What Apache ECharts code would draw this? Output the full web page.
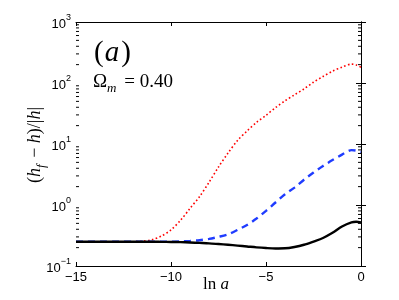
<!DOCTYPE html>
<html>
<head>
<meta charset="utf-8">
<style>html,body{margin:0;padding:0;background:#fff;}#c{width:399px;height:300px;}</style>
<script src="https://cdn.jsdelivr.net/npm/echarts@6/dist/echarts.min.js"></script>
</head>
<body>
<div id="c"></div>
<script>
// Data
var lnA = [-15, -14.5, -14, -13.5, -13, -12.5, -12, -11.5, -11, -10.5, -10, -9.5, -9, -8.5, -8, -7.5, -7, -6.5, -6, -5.5, -5, -4.5, -4, -3.5, -3, -2.5, -2, -1.5, -1, -0.5, -0.25, 0];
var blackSolid = [0.25, 0.25, 0.25, 0.25, 0.25, 0.25, 0.25, 0.25, 0.25, 0.249, 0.248, 0.246, 0.243, 0.239, 0.235, 0.229, 0.223, 0.216, 0.209, 0.202, 0.197, 0.194, 0.195, 0.205, 0.223, 0.252, 0.288, 0.35, 0.445, 0.52, 0.532, 0.52];
var blueDashed = [0.25, 0.25, 0.25, 0.25, 0.25, 0.25, 0.25, 0.25, 0.25, 0.25, 0.25, 0.253, 0.258, 0.265, 0.278, 0.3, 0.33, 0.39, 0.47, 0.6, 0.8, 1.1, 1.5, 1.93, 2.6, 3.4, 4.35, 5.45, 6.7, 7.95, 7.8, 7.4];
var redDotted = [0.25, 0.25, 0.25, 0.25, 0.25, 0.25, 0.25, 0.255, 0.27, 0.31, 0.39, 0.56, 0.88, 1.37, 2.35, 4.2, 7.1, 11.4, 16.3, 22.6, 29.5, 39.5, 51, 64, 80, 103, 128, 156, 182, 204, 198, 181];
var xTicks = [-15, -10, -5, 0];
var yTicks = [0.1, 1, 10, 100, 1000];
var yTickExp = {'0.1': '\u22121', '1': '0', '10': '1', '100': '2', '1000': '3'};
var yMinorTicks = [];
[0.1, 1, 10, 100].forEach(function (d) { for (var k = 2; k <= 9; k++) yMinorTicks.push(+(d * k).toPrecision(3)); });

function pairs(ys) { return lnA.map(function (x, i) { return [x, ys[i]]; }); }

var chart = echarts.init(document.getElementById('c'), null, {renderer: 'canvas'});
var tickFont = 'Liberation Sans';
var serif = 'Liberation Serif';
var option = {
  animation: false,
  backgroundColor: '#fff',
  grid: {left: 76, right: 38, top: 22, bottom: 34},
  xAxis: [{
    type: 'value', min: -15, max: 0, interval: 5,
    axisLine: {lineStyle: {color: '#000', width: 1}},
    axisTick: {inside: true, length: 4, lineStyle: {color: '#000'}},
    axisLabel: {color: '#000', fontFamily: tickFont, fontSize: 13, margin: 5,
      formatter: function (v) { return String(v).replace('-', '\u2212'); }},
    splitLine: {show: false}
  }, {
    type: 'value', min: -15, max: 0, interval: 5, position: 'top',
    axisLine: {show: true, lineStyle: {color: '#000', width: 1}},
    axisTick: {inside: true, length: 4, lineStyle: {color: '#000'}},
    axisLabel: {show: false}, splitLine: {show: false}
  }],
  yAxis: [{
    type: 'log', logBase: 10, min: 0.1, max: 1000,
    axisLine: {show: true, lineStyle: {color: '#000', width: 1}},
    axisTick: {show: true, inside: true, length: 5, lineStyle: {color: '#000'}},
    axisLabel: {color: '#000', fontFamily: tickFont, fontSize: 13, margin: 5,
      formatter: function (v) { var k = String(+v.toPrecision(3)); return '{b|10}{s|' + (yTickExp[k] || '') + '}'; },
      rich: {b: {fontFamily: tickFont, fontSize: 13, color: '#000', lineHeight: 18, verticalAlign: 'bottom'},
             s: {fontFamily: tickFont, fontSize: 9, color: '#000', verticalAlign: 'top', lineHeight: 18, padding: [0, 0, 6, 0]}}},
    splitLine: {show: false}
  }, {
    type: 'log', logBase: 10, min: 0.1, max: 1000, position: 'right',
    axisLine: {show: true, lineStyle: {color: '#000', width: 1}},
    axisTick: {show: true, inside: true, length: 5, lineStyle: {color: '#000'}},
    axisLabel: {show: false}, splitLine: {show: false}
  }],
  series: [{
    type: 'line', data: pairs(redDotted), smooth: 0.3, showSymbol: false, symbol: 'none',
    lineStyle: {color: '#ff0000', width: 1.6, type: [1.6, 2.4]}, z: 3
  }, {
    type: 'line', data: pairs(blueDashed), smooth: 0.3, showSymbol: false, symbol: 'none',
    lineStyle: {color: '#1f3cff', width: 2.4, type: [7, 5]}, z: 4
  }, {
    type: 'line', data: pairs(blackSolid), smooth: 0.3, showSymbol: false, symbol: 'none',
    lineStyle: {color: '#000', width: 2.4}, z: 5
  }, {
    type: 'custom', silent: true, z: 6,
    data: yMinorTicks.map(function (v) { return [-15, v]; }),
    renderItem: function (params, api) {
      var v = api.value(1);
      var l = api.coord([-15, v]);
      var r = api.coord([0, v]);
      return {type: 'group', children: [
        {type: 'line', shape: {x1: l[0], y1: l[1], x2: l[0] + 3, y2: l[1]}, style: {stroke: '#000', lineWidth: 1}},
        {type: 'line', shape: {x1: r[0], y1: r[1], x2: r[0] - 3, y2: r[1]}, style: {stroke: '#000', lineWidth: 1}}
      ]};
    }
  }],
  graphic: [{
    type: 'text', x: 94, y: 53,
    style: {text: '{u|(}{i|a}{u|)}', textVerticalAlign: 'middle', textAlign: 'left',
      rich: {u: {fontFamily: serif, fontSize: 29, color: '#000'}, i: {fontFamily: serif, fontStyle: 'italic', fontSize: 29, color: '#000', padding: [0, 2, 0, 1]}}}
  }, {
    type: 'text', x: 93, y: 84,
    style: {text: '{u|\u03A9}{s|m}{u| = 0.40}', textVerticalAlign: 'middle', textAlign: 'left',
      rich: {u: {fontFamily: serif, fontSize: 19, color: '#000', verticalAlign: 'top', lineHeight: 22},
             s: {fontFamily: serif, fontStyle: 'italic', fontSize: 13, color: '#000', verticalAlign: 'bottom', lineHeight: 10, padding: [0, 3, 0, 0]}}}
  }, {
    type: 'text', x: 37, y: 145, rotation: Math.PI / 2,
    style: {text: '{u|(}{i|h}{s|f}{u| \u2212 }{i|h}{u|)/|}{i|h}{u||}', textVerticalAlign: 'middle', textAlign: 'center',
      rich: {u: {fontFamily: serif, fontSize: 18, color: '#000', verticalAlign: 'top', lineHeight: 22},
             i: {fontFamily: serif, fontStyle: 'italic', fontSize: 18, color: '#000', verticalAlign: 'top', lineHeight: 22},
             s: {fontFamily: serif, fontStyle: 'italic', fontSize: 13, color: '#000', verticalAlign: 'bottom', lineHeight: 12, padding: [0, 2, 0, 0]}}}
  }, {
    type: 'text', x: 216, y: 285,
    style: {text: '{u|ln }{i|a}', textVerticalAlign: 'middle', textAlign: 'center',
      rich: {u: {fontFamily: serif, fontSize: 17, color: '#000'}, i: {fontFamily: serif, fontStyle: 'italic', fontSize: 17, color: '#000'}}}
  }]
};
chart.setOption(option);
</script>
</body>
</html>
